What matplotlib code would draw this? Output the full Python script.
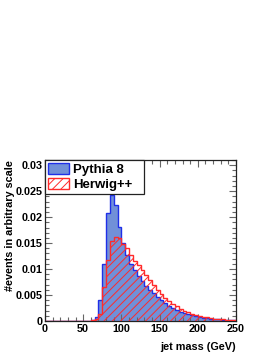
import numpy as np
import matplotlib
matplotlib.use("Agg")
import matplotlib.pyplot as plt
from matplotlib.patches import Patch
from matplotlib.ticker import MultipleLocator

# ---- data (5 GeV bins from 0 to 250 GeV) ----
bin_edges = np.arange(0, 255, 5)
pythia8 = [0, 0, 0, 0, 0, 0, 0, 0, 0, 0, 0, 0,
           0.0001, 0.0007, 0.0040, 0.0110, 0.0207, 0.0242, 0.0223, 0.0181,
           0.0150, 0.0127, 0.0110, 0.0098, 0.0086, 0.0077, 0.0068, 0.0060,
           0.0053, 0.0046, 0.0040, 0.0034, 0.0029, 0.0025, 0.0021, 0.0018,
           0.0015, 0.0013, 0.0011, 0.0009, 0.0007, 0.0006, 0.0005, 0.0004,
           0.0003, 0.0003, 0.0002, 0.0002, 0.0001, 0.0001]
herwig = [0, 0, 0, 0, 0, 0, 0, 0, 0, 0, 0, 0,
          0.0001, 0.0003, 0.0014, 0.0065, 0.0117, 0.0155, 0.0161, 0.0159,
          0.0148, 0.0140, 0.0128, 0.0116, 0.0108, 0.0099, 0.0089, 0.0079,
          0.0069, 0.0060, 0.0052, 0.0045, 0.0039, 0.0033, 0.0028, 0.0024,
          0.0020, 0.0017, 0.0014, 0.0012, 0.0010, 0.0008, 0.0007, 0.0005,
          0.0004, 0.0004, 0.0003, 0.0002, 0.0002, 0.0001]
labels = ["Pythia 8", "Herwig++"]
xlabel = "jet mass (GeV)"
ylabel = "#events in arbitrary scale"
ytick_vals = [0, 0.005, 0.01, 0.015, 0.02, 0.025, 0.03]
ytick_labels = ["0", "0.005", "0.01", "0.015", "0.02", "0.025", "0.03"]

blue_fill = "#7190d8"
blue_edge = "#1f2fe8"
red = "#ff2a2a"

plt.rcParams["font.family"] = ["Liberation Sans", "DejaVu Sans"]
plt.rcParams["font.weight"] = "bold"
plt.rcParams["hatch.linewidth"] = 0.7

fig = plt.figure(figsize=(2.74, 3.55), dpi=100)
ax = fig.add_axes([45 / 274, 1 - 321 / 355, 191 / 274, 161 / 355])

ax.stairs(pythia8, bin_edges, fill=True, facecolor=blue_fill, edgecolor="none", zorder=1)
ax.stairs(pythia8, bin_edges, color=blue_edge, linewidth=1.0, zorder=2)
ax.stairs(herwig, bin_edges, fill=True, facecolor="none", edgecolor=red,
          hatch="////", linewidth=0, zorder=3)
ax.stairs(herwig, bin_edges, color=red, linewidth=1.0, zorder=4)

ax.set_xlim(0, 250)
ax.set_ylim(0, 0.031)
ax.xaxis.set_major_locator(MultipleLocator(50))
ax.xaxis.set_minor_locator(MultipleLocator(10))
ax.yaxis.set_minor_locator(MultipleLocator(0.001))
ax.set_yticks(ytick_vals)
ax.set_yticklabels(ytick_labels)

ax.tick_params(which="both", direction="in", top=True, right=True,
               color="#666666", width=0.8, labelsize=7.8, pad=2)
ax.tick_params(which="major", length=5)
ax.tick_params(which="minor", length=2.8)
for lab in ax.get_xticklabels() + ax.get_yticklabels():
    lab.set_fontweight("bold")
for s in ax.spines.values():
    s.set_linewidth(0.9)
    s.set_color("#222222")

ax.set_xlabel(xlabel, fontsize=7.8, fontweight="bold", loc="right", labelpad=6)
ax.set_ylabel(ylabel, fontsize=7.8, fontweight="bold", loc="top", labelpad=0.5)

handles = [Patch(facecolor=blue_fill, edgecolor=blue_edge, linewidth=1.0),
           Patch(facecolor="white", edgecolor=red, hatch="////", linewidth=1.0)]
leg = ax.legend(handles, labels, loc="upper left", bbox_to_anchor=(0, 0, 0.52, 1),
                mode="expand", borderaxespad=0, fancybox=False, framealpha=1,
                edgecolor="#222222", prop={"size": 9.5, "weight": "bold"},
                handlelength=1.6, handleheight=0.95, handletextpad=0.35,
                borderpad=0.2, labelspacing=0.15)
leg.get_frame().set_linewidth(0.9)
leg.set_zorder(10)

fig.savefig("out.png", dpi=100)
